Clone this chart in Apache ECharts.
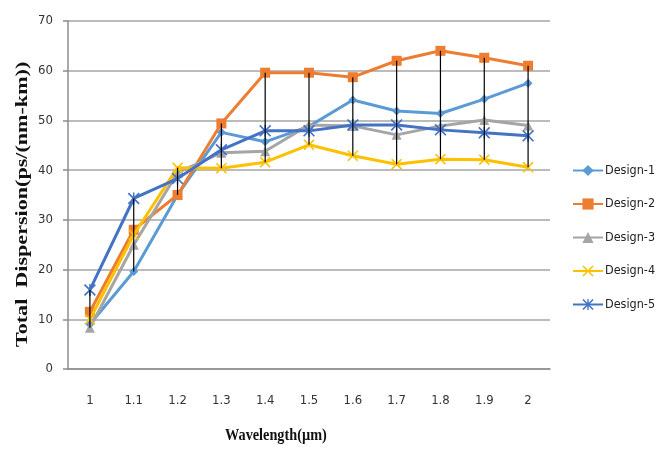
<!DOCTYPE html>
<html>
<head>
<meta charset="utf-8">
<script src="https://cdn.jsdelivr.net/npm/echarts@6/dist/echarts.min.js"></script>
<style>
  html, body { margin: 0; padding: 0; background: #fff; }
  #chart { width: 672px; height: 450px; }
</style>
</head>
<body>
<div id="chart"></div>
<script>
// Wavelength samples (µm)
const wavelengths = ['1', '1.1', '1.2', '1.3', '1.4', '1.5', '1.6', '1.7', '1.8', '1.9', '2'];

// Total dispersion, ps/(nm-km), per design
const design1 = [9.0, 19.6, 35.0, 47.6, 45.7, 48.8, 54.1, 51.9, 51.4, 54.3, 57.5];
const design2 = [11.5, 28.0, 35.0, 49.4, 59.6, 59.6, 58.7, 62.0, 64.0, 62.6, 61.0];
const design3 = [8.3, 25.0, 39.5, 43.5, 43.8, 49.1, 48.9, 47.1, 48.9, 50.1, 49.0];
const design4 = [10.0, 27.0, 40.5, 40.4, 41.6, 45.1, 42.9, 41.2, 42.2, 42.1, 40.6];
const design5 = [15.9, 34.3, 38.3, 44.1, 47.9, 47.9, 49.1, 49.1, 48.1, 47.5, 46.9];

const seriesNames = ['Design-1', 'Design-2', 'Design-3', 'Design-4', 'Design-5'];
const yTicks = [0, 10, 20, 30, 40, 50, 60, 70];

const allSeries = [design1, design2, design3, design4, design5];
const colors = ['#5B9BD5', '#ED7D31', '#A5A5A5', '#FFC000', '#4472C4'];

// Marker shapes
const crossPath = 'path://M0,1 L1,0 L5,4 L9,0 L10,1 L6,5 L10,9 L9,10 L5,6 L1,10 L0,9 L4,5 Z';
const starPath = 'path://M0,1 L1,0 L5,4 L9,0 L10,1 L6,5 L10,9 L9,10 L5,6 L1,10 L0,9 L4,5 Z M4.4,0 L5.6,0 L5.6,10 L4.4,10 Z';
const symbols = ['diamond', 'rect', 'triangle', crossPath, starPath];
const symbolSizes = [9, 10, 10, 11, 12];

// High-low ranges across designs at each wavelength
const hiLow = wavelengths.map((_, i) => {
  const vals = allSeries.map(s => s[i]);
  return [i, Math.min(...vals), Math.max(...vals)];
});

const tickFont = '"DejaVu Sans Condensed", "Liberation Sans", sans-serif';
const titleFont = '"Liberation Serif", "Times New Roman", serif';

const chart = echarts.init(document.getElementById('chart'), null, { renderer: 'canvas' });

const lineSeries = seriesNames.map((name, k) => ({
  name: name,
  type: 'line',
  data: allSeries[k],
  symbol: symbols[k],
  symbolSize: symbolSizes[k],
  showAllSymbol: true,
  color: colors[k],
  lineStyle: { width: 3, color: colors[k] },
  itemStyle: { color: colors[k] },
  z: 2 + k,
  animation: false
}));

chart.setOption({
  animation: false,
  grid: { left: 68, right: 122, top: 21, bottom: 81, containLabel: false },
  legend: {
    orient: 'vertical',
    left: 567,
    top: 159,
    itemGap: 20.5,
    itemWidth: 30,
    itemHeight: 14,
    data: seriesNames,
    textStyle: { fontFamily: tickFont, fontSize: 12.5, color: '#222', padding: [0, 0, 0, -3] }
  },
  xAxis: {
    type: 'category',
    data: wavelengths,
    boundaryGap: true,
    axisLine: { show: true, lineStyle: { color: '#8C8C8C', width: 1.5 } },
    axisTick: { show: false },
    axisLabel: { fontFamily: tickFont, fontSize: 13, color: '#333', margin: 25 },
    splitLine: { show: false }
  },
  yAxis: {
    type: 'value',
    min: yTicks[0],
    max: yTicks[yTicks.length - 1],
    interval: 10,
    axisLine: { show: true, lineStyle: { color: '#8C8C8C', width: 1.5 } },
    axisTick: { show: true, length: 5, lineStyle: { color: '#8C8C8C', width: 1.5 } },
    axisLabel: { fontFamily: tickFont, fontSize: 13, color: '#333', margin: 15 },
    splitLine: { show: true, lineStyle: { color: '#A6A6A6', width: 1.5 } }
  },
  graphic: [
    {
      type: 'text',
      left: 225,
      top: 427,
      scaleX: 0.84,
      style: { text: 'Wavelength(µm)', font: 'bold 17px ' + titleFont, fill: '#111' }
    },
    {
      type: 'text',
      x: 14,
      y: 347,
      rotation: Math.PI / 2,
      scaleX: 1.3,
      style: { text: 'Total  Dispersion(ps/(nm-km))', font: 'bold 17px ' + titleFont, fill: '#111', verticalAlign: 'top' }
    }
  ],
  series: lineSeries.concat([{
    name: 'high-low',
    type: 'custom',
    data: hiLow,
    z: 10,
    silent: true,
    renderItem: function (params, api) {
      const p1 = api.coord([api.value(0), api.value(1)]);
      const p2 = api.coord([api.value(0), api.value(2)]);
      return {
        type: 'line',
        shape: { x1: p1[0], y1: p1[1], x2: p2[0], y2: p2[1] },
        style: { stroke: '#000', lineWidth: 1.2 }
      };
    }
  }])
});
</script>
</body>
</html>
